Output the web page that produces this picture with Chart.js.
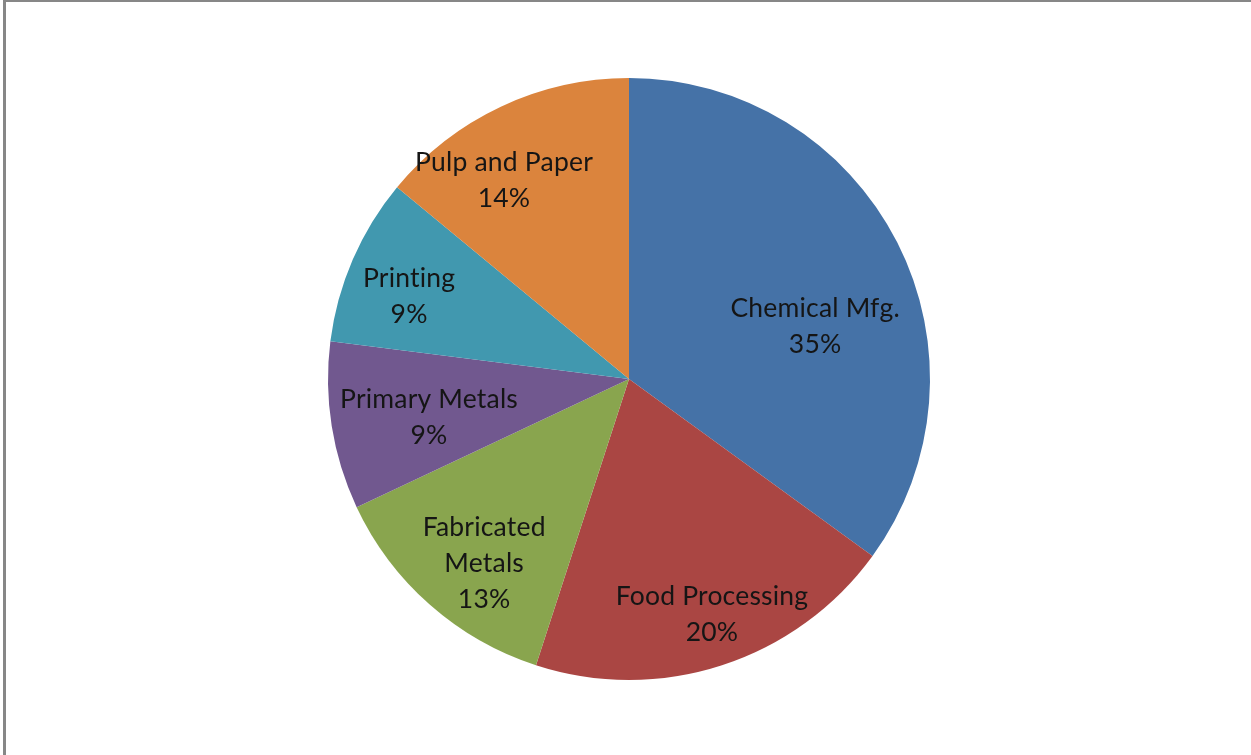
<!DOCTYPE html>
<html>
<head>
<meta charset="utf-8">
<script src="https://cdn.jsdelivr.net/npm/chart.js@4/dist/chart.umd.min.js"></script>
<style>
  html, body { margin: 0; padding: 0; background: #fff; overflow: hidden; }
  #wrap { position: relative; width: 1251px; height: 755px; }
  #frame { position: absolute; left: 3px; top: 0; width: 1260px; height: 770px;
           border-left: 3px solid #878787; border-top: 2px solid #878787; box-sizing: border-box; }
  canvas { position: absolute; left: 0; top: 0; }
</style>
</head>
<body>
<div id="wrap">
  <canvas id="c" width="1251" height="755"></canvas>
  <div id="frame"></div>
</div>
<script>
const categories = ["Chemical Mfg.", "Food Processing", "Fabricated Metals", "Primary Metals", "Printing", "Pulp and Paper"];
const labelLines = [["Chemical Mfg."], ["Food Processing"], ["Fabricated", "Metals"], ["Primary Metals"], ["Printing"], ["Pulp and Paper"]];
const values = [35, 20, 13, 9, 9, 14];
const colors = ["#4572A7", "#AA4643", "#89A54E", "#71588F", "#4198AF", "#DB843D"];
// label placement: radial fraction of radius and angular shift (degrees) from slice middle
const labelPlacement = [
  { f: 0.644, da: 10.8 },
  { f: 0.822, da: -1.6 },
  { f: 0.773, da: -2.9 },
  { f: 0.675, da: -1.2 },
  { f: 0.783, da: -2.3 },
  { f: 0.786, da: -6.7 }
];

const sliceLabels = {
  id: 'sliceLabels',
  afterDatasetsDraw(chart) {
    const ctx = chart.ctx;
    const meta = chart.getDatasetMeta(0);
    const total = values.reduce((a, b) => a + b, 0);
    ctx.save();
    ctx.font = '26.5px Lato';
    try { ctx.letterSpacing = '0.2px'; } catch (e) {}
    ctx.fillStyle = '#151515';
    ctx.textAlign = 'center';
    ctx.textBaseline = 'middle';
    const lh = 36;
    meta.data.forEach((arc, i) => {
      const p = arc.getProps(['x', 'y', 'startAngle', 'endAngle', 'outerRadius'], true);
      const mid = (p.startAngle + p.endAngle) / 2 + labelPlacement[i].da * Math.PI / 180;
      const r = p.outerRadius * labelPlacement[i].f;
      const cx = p.x + Math.cos(mid) * r;
      const cy = p.y + Math.sin(mid) * r + 2;
      const lines = labelLines[i].concat([Math.round(values[i] / total * 100) + '%']);
      const y0 = cy - (lines.length - 1) * lh / 2;
      lines.forEach((t, k) => ctx.fillText(t, cx, y0 + k * lh));
    });
    ctx.restore();
  }
};

new Chart(document.getElementById('c'), {
  type: 'pie',
  data: {
    labels: categories,
    datasets: [{
      data: values,
      backgroundColor: colors,
      borderWidth: 0
    }]
  },
  options: {
    responsive: false,
    animation: false,
    layout: { padding: { left: 328, right: 321, top: 78, bottom: 75 } },
    plugins: {
      legend: { display: false },
      tooltip: { enabled: false }
    }
  },
  plugins: [sliceLabels]
});
</script>
</body>
</html>
